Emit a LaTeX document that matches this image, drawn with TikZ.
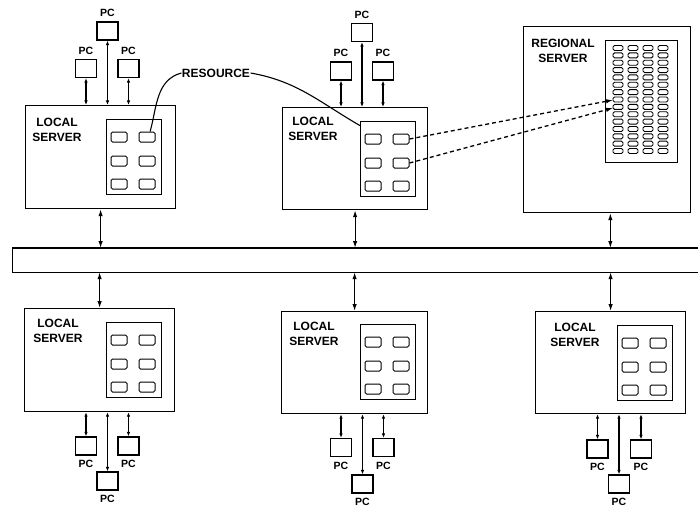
\documentclass[tikz,border=0pt]{standalone}
\usepackage{fontspec}
\setmainfont{Liberation Sans}
\usetikzlibrary{arrows.meta,calc}
\newcommand\lpanel[3]{%
  \node[panel] (#1) at (#2,#3) {};
  \foreach \r/\yy in {1/18,2/42,3/65}{\foreach \c/\xx in {1/13,2/41}{\node[res] (#1-\r-\c) at (#2+\xx,#3+\yy) {};}}%
}
\begin{document}
\begin{tikzpicture}[x=1pt,y=-1pt,line width=1.2pt,
  server/.style={draw,line width=1.2pt,inner sep=0pt,anchor=north west},
  panel/.style={draw,line width=1.2pt,inner sep=0pt,anchor=north west,minimum width=55pt,minimum height=75pt},
  res/.style={draw,line width=1pt,inner sep=0pt,minimum width=16pt,minimum height=10pt,rounded corners=1.5pt},
  cell/.style={draw,line width=0.9pt,inner sep=0pt,minimum width=10pt,minimum height=5pt,rounded corners=1.5pt},
  lbl/.style={inner sep=0pt,align=center,font=\fontsize{12}{15}\selectfont\bfseries},
  pc/.style={draw,line width=1.2pt,inner sep=0pt,minimum width=21pt,minimum height=18pt},
  pcup/.style={pc,label={[label distance=4pt,inner sep=0pt,font=\fontsize{10.5}{12}\selectfont\bfseries]above:PC}},
  pcdn/.style={pc,label={[label distance=4pt,inner sep=0pt,font=\fontsize{10.5}{12}\selectfont\bfseries]below:PC}},
  pcarrow/.style={{Latex[length=4.5pt,width=3.5pt]}-{Latex[length=4.5pt,width=3.5pt]},line width=1.1pt},
  busarrow/.style={{Latex[length=7pt,width=4.5pt]}-{Latex[length=7pt,width=4.5pt]},line width=1.2pt},
  dasharrow/.style={dash pattern=on 4pt off 3pt,line width=1.3pt,-{Latex[length=7pt,width=4.5pt]}}
]
\useasboundingbox (0,0) rectangle (698,508);

% servers
\node[server,minimum width=150pt,minimum height=103pt] (tl) at (25,105) {};
\node[server,minimum width=145pt,minimum height=102pt] (tm) at (282,107) {};
\node[server,minimum width=167pt,minimum height=186pt] (reg) at (523,26) {};
\node[server,minimum width=150pt,minimum height=103pt] (bl) at (24,308) {};
\node[server,minimum width=146pt,minimum height=102pt] (bm) at (281,311) {};
\node[server,minimum width=150pt,minimum height=102pt] (br) at (535,311) {};

% server labels
\node[lbl] (tlt) at (57,129.5) {LOCAL\\SERVER};
\node[lbl] (tmt) at (313,129) {LOCAL\\SERVER};
\node[lbl] (regt) at (563,50.5) {REGIONAL\\SERVER};
\node[lbl] (blt) at (58,330.5) {LOCAL\\SERVER};
\node[lbl] (bmt) at (314,334) {LOCAL\\SERVER};
\node[lbl] (brt) at (575,334.5) {LOCAL\\SERVER};

% resource panels
\lpanel{p1}{106}{119}
\lpanel{p2}{360}{121}
\lpanel{p4}{106}{322}
\lpanel{p5}{360}{324}
\lpanel{p6}{617}{325}

% regional panel
\node[panel,minimum width=72pt,minimum height=122pt] (rp) at (605,40) {};
\foreach \r in {0,...,14}{\foreach \c in {0,...,3}{\node[cell] (g-\r-\c) at (618+15*\c,48+7.36*\r) {};}}

% bus
\node[inner sep=0pt,minimum width=690pt,minimum height=23pt,anchor=north west] (bus) at (12.5,248) {};
\draw (bus.north east) -- (bus.north west) -- (bus.south west) -- (bus.south east);

% bus arrows
\draw[busarrow] (tl.south) -- (tl.south |- bus.north);
\draw[busarrow] (tm.south) -- (tm.south |- bus.north);
\draw[busarrow] (reg.-88) -- (reg.-88 |- bus.north);
\draw[busarrow] (bus.south -| bl.north) -- (bl.north);
\draw[busarrow] (bus.south -| bm.north) -- (bm.north);
\draw[busarrow] (bus.south -| br.north) -- (br.north);

% PCs top-left
\node[pcup] (tlL) at (86,68.5) {};
\node[pcup] (tlM) at (107.5,31) {};
\node[pcup] (tlR) at (128.5,68.5) {};
% PCs top-middle
\node[pcup] (tmL) at (341,71) {};
\node[pcup] (tmM) at (362,32.5) {};
\node[pcup] (tmR) at (383,71) {};
% PCs bottom-left
\node[pcdn] (blL) at (86,446) {};
\node[pcdn] (blM) at (107.5,481) {};
\node[pcdn] (blR) at (128.5,446) {};
% PCs bottom-middle
\node[pcdn] (bmL) at (341,447.5) {};
\node[pcdn] (bmM) at (362.5,484) {};
\node[pcdn] (bmR) at (383.5,447.5) {};
% PCs bottom-right
\node[pcdn] (brL) at (597.5,449) {};
\node[pcdn] (brM) at (619,484) {};
\node[pcdn] (brR) at (641,449) {};

% PC arrows
\foreach \p/\s in {tlL/tl,tlM/tl,tlR/tl,tmL/tm,tmM/tm,tmR/tm}{
  \draw[pcarrow] (\p.south) -- (\p.south |- \s.north);
}
\foreach \p/\s in {blL/bl,blM/bl,blR/bl,bmL/bm,bmM/bm,bmR/bm,brL/br,brM/br,brR/br}{
  \draw[pcarrow] (\s.south -| \p.north) -- (\p.north);
}

% resource label and curves
\node[lbl] (resl) at (216,73) {RESOURCE};
\draw[line width=1.1pt] (resl.west) to[out=195,in=75] (p1-1-2.60);
\draw[line width=1.1pt] (resl.east) to[out=-10,in=150] (p2.130);

% dashed links to regional server
\coordinate (d1) at (613,100);
\coordinate (d2) at (613,108);
\draw[dasharrow] (p2-1-2.east) -- (d1);
\draw[dasharrow] (p2-2-2.east) -- (d2);
\end{tikzpicture}
\end{document}
